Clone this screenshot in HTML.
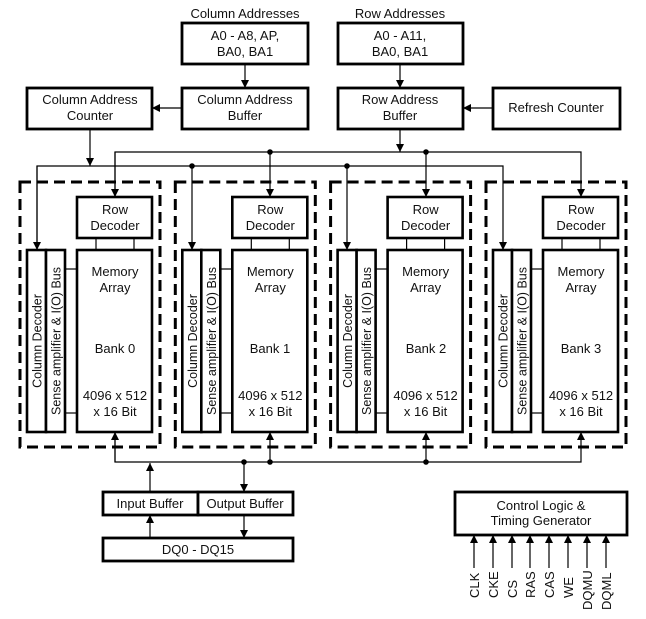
<!DOCTYPE html>
<html><head><meta charset="utf-8"><style>
html,body{margin:0;padding:0;background:#fff}
svg{display:block}
text{font-family:"Liberation Sans",Arial,sans-serif;font-size:13px;fill:#111}
</style></head><body>
<svg width="646" height="619" viewBox="0 0 646 619" xmlns="http://www.w3.org/2000/svg">
<defs>
<marker id="a" viewBox="0 0 10 10" refX="10" refY="5" markerWidth="8" markerHeight="8" orient="auto" markerUnits="userSpaceOnUse"><path d="M0,0 L10,5 L0,10 z" fill="#000"/></marker>
<g id="bank">
<rect x="20" y="182" width="140" height="265" fill="none" stroke="#000" stroke-width="3" stroke-dasharray="11,6"/>
<rect x="77" y="197" width="75" height="41" fill="#fff" stroke="#000" stroke-width="2.6"/>
<text x="115" y="214" text-anchor="middle">Row</text>
<text x="115" y="230" text-anchor="middle">Decoder</text>
<line x1="96" y1="238" x2="96" y2="250" stroke="#000" stroke-width="1.2"/>
<line x1="134" y1="238" x2="134" y2="250" stroke="#000" stroke-width="1.2"/>
<rect x="27" y="250" width="19" height="182" fill="#fff" stroke="#000" stroke-width="2.6"/>
<rect x="46" y="250" width="19" height="182" fill="#fff" stroke="#000" stroke-width="2.6"/>
<text transform="translate(41.5,341) rotate(-90)" text-anchor="middle" style="font-size:12.5px">Column Decoder</text>
<text transform="translate(60.5,341) rotate(-90)" text-anchor="middle" style="font-size:12.5px">Sense amplifier &amp; I(O) Bus</text>
<line x1="65" y1="269" x2="77" y2="269" stroke="#000" stroke-width="1.2"/>
<line x1="65" y1="413" x2="77" y2="413" stroke="#000" stroke-width="1.2"/>
<rect x="77" y="250" width="75" height="182" fill="#fff" stroke="#000" stroke-width="2.6"/>
<text x="115" y="276" text-anchor="middle">Memory</text>
<text x="115" y="292" text-anchor="middle">Array</text>
<text x="115" y="400" text-anchor="middle">4096 x 512</text>
<text x="115" y="416" text-anchor="middle">x 16 Bit</text>
</g>
</defs>
<g stroke="#000" stroke-width="2.8" fill="#fff">
<rect x="182" y="23" width="126" height="41"/>
<rect x="182" y="88" width="126" height="41"/>
<rect x="27" y="88" width="125" height="41"/>
<rect x="338" y="23" width="125" height="41"/>
<rect x="338" y="88" width="125" height="41"/>
<rect x="493" y="88" width="127" height="41"/>
<rect x="103" y="492" width="95" height="23"/>
<rect x="198" y="492" width="95" height="23"/>
<rect x="103" y="538" width="190" height="23"/>
<rect x="455" y="492" width="172" height="43"/>
</g>
<text x="245" y="18" text-anchor="middle">Column Addresses</text>
<text x="245" y="40" text-anchor="middle">A0 - A8, AP,</text>
<text x="245" y="56" text-anchor="middle">BA0, BA1</text>
<text x="245" y="104" text-anchor="middle">Column Address</text>
<text x="245" y="120" text-anchor="middle">Buffer</text>
<text x="90" y="104" text-anchor="middle">Column Address</text>
<text x="90" y="120" text-anchor="middle">Counter</text>
<text x="400" y="18" text-anchor="middle">Row Addresses</text>
<text x="400" y="40" text-anchor="middle">A0 - A11,</text>
<text x="400" y="56" text-anchor="middle">BA0, BA1</text>
<text x="400" y="104" text-anchor="middle">Row Address</text>
<text x="400" y="120" text-anchor="middle">Buffer</text>
<text x="556" y="112" text-anchor="middle">Refresh Counter</text>
<text x="150" y="508" text-anchor="middle">Input Buffer</text>
<text x="245" y="508" text-anchor="middle">Output Buffer</text>
<text x="198" y="554" text-anchor="middle">DQ0 - DQ15</text>
<text x="541" y="510" text-anchor="middle">Control Logic &amp;</text>
<text x="541" y="525" text-anchor="middle">Timing Generator</text>

<use href="#bank"/>
<use href="#bank" transform="translate(155.3,0)"/>
<use href="#bank" transform="translate(310.6,0)"/>
<use href="#bank" transform="translate(466,0)"/>
<text x="115" y="353" text-anchor="middle">Bank 0</text>
<text x="270" y="353" text-anchor="middle">Bank 1</text>
<text x="426" y="353" text-anchor="middle">Bank 2</text>
<text x="581" y="353" text-anchor="middle">Bank 3</text>

<g stroke="#000" stroke-width="1.2" fill="none">
<line x1="245" y1="64" x2="245" y2="88" marker-end="url(#a)"/>
<line x1="400" y1="64" x2="400" y2="88" marker-end="url(#a)"/>
<line x1="182" y1="108" x2="152" y2="108" marker-end="url(#a)"/>
<line x1="493" y1="108" x2="463" y2="108" marker-end="url(#a)"/>
<line x1="90" y1="129" x2="90" y2="166" marker-end="url(#a)"/>
<line x1="400" y1="129" x2="400" y2="152" marker-end="url(#a)"/>
<polyline points="115,197 115,152 581,152 581,197" marker-end="url(#a)"/>
<line x1="115" y1="152" x2="115" y2="197" marker-end="url(#a)"/>
<line x1="270" y1="152" x2="270" y2="197" marker-end="url(#a)"/>
<line x1="426" y1="152" x2="426" y2="197" marker-end="url(#a)"/>
<polyline points="37,250 37,166 503,166 503,250" marker-end="url(#a)"/>
<line x1="37" y1="166" x2="37" y2="250" marker-end="url(#a)"/>
<line x1="192" y1="166" x2="192" y2="250" marker-end="url(#a)"/>
<line x1="347" y1="166" x2="347" y2="250" marker-end="url(#a)"/>
<polyline points="115,432 115,462 581,462 581,432" marker-end="url(#a)"/>
<line x1="115" y1="462" x2="115" y2="432" marker-end="url(#a)"/>
<line x1="270" y1="462" x2="270" y2="432" marker-end="url(#a)"/>
<line x1="426" y1="462" x2="426" y2="432" marker-end="url(#a)"/>
<line x1="150" y1="492" x2="150" y2="463" marker-end="url(#a)"/>
<line x1="244" y1="462" x2="244" y2="492" marker-end="url(#a)"/>
<line x1="150" y1="538" x2="150" y2="515" marker-end="url(#a)"/>
<line x1="244" y1="515" x2="244" y2="538" marker-end="url(#a)"/>
<line x1="474" y1="568" x2="474" y2="535" marker-end="url(#a)"/>
<line x1="493" y1="568" x2="493" y2="535" marker-end="url(#a)"/>
<line x1="512" y1="568" x2="512" y2="535" marker-end="url(#a)"/>
<line x1="530" y1="568" x2="530" y2="535" marker-end="url(#a)"/>
<line x1="549" y1="568" x2="549" y2="535" marker-end="url(#a)"/>
<line x1="568" y1="568" x2="568" y2="535" marker-end="url(#a)"/>
<line x1="587" y1="568" x2="587" y2="535" marker-end="url(#a)"/>
<line x1="606" y1="568" x2="606" y2="535" marker-end="url(#a)"/>
</g>
<g fill="#000">
<circle cx="270" cy="152" r="2.8"/><circle cx="426" cy="152" r="2.8"/>
<circle cx="192" cy="166" r="2.8"/><circle cx="347" cy="166" r="2.8"/>
<circle cx="244" cy="462" r="2.8"/><circle cx="270" cy="462" r="2.8"/><circle cx="426" cy="462" r="2.8"/>
</g>
<g>
<text transform="translate(479,598) rotate(-90)">CLK</text>
<text transform="translate(498,598) rotate(-90)">CKE</text>
<text transform="translate(517,598) rotate(-90)">CS</text>
<text transform="translate(535,598) rotate(-90)">RAS</text>
<text transform="translate(554,598) rotate(-90)">CAS</text>
<text transform="translate(573,598) rotate(-90)">WE</text>
<text transform="translate(592,610) rotate(-90)">DQMU</text>
<text transform="translate(611,610) rotate(-90)">DQML</text>
</g>
</svg>
</body></html>
